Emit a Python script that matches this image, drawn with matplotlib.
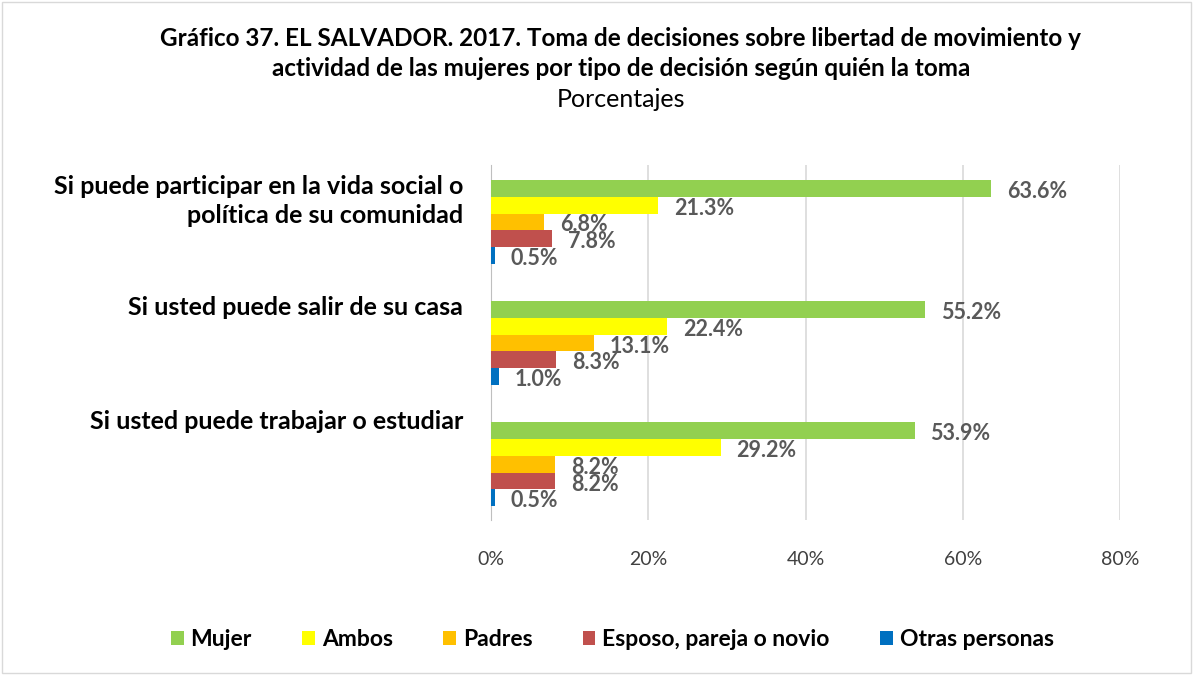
import numpy as np
import matplotlib
matplotlib.use("Agg")
from matplotlib import pyplot as plt
from matplotlib.patches import Rectangle

# data
categories = ["Si puede participar en la vida social o\npolítica de su comunidad",
              "Si usted puede salir de su casa",
              "Si usted puede trabajar o estudiar"]
series = ["Mujer", "Ambos", "Padres", "Esposo, pareja o novio", "Otras personas"]
mujer = [63.6, 55.2, 53.9]
ambos = [21.3, 22.4, 29.2]
padres = [6.8, 13.1, 8.2]
esposo = [7.8, 8.3, 8.2]
otras = [0.5, 1.0, 0.5]
colors = ["#92D050", "#FFFF00", "#FFC000", "#C0504D", "#0070C0"]
xticks = [0, 20, 40, 60, 80]

plt.rcParams["font.family"] = ["Lato", "DejaVu Sans"]

fig = plt.figure(figsize=(11.96, 6.75), dpi=100)
ax = fig.add_axes([0.4105, 0.2296, 0.526, 0.526])

h = 0.138
y = np.arange(len(categories))
values = [mujer, ambos, padres, esposo, otras]
for i, (name, vals, c) in enumerate(zip(series, values, colors)):
    pos = y + (i - 2) * h
    ax.barh(pos, vals, height=h, color=c, label=name, zorder=3)
    for p, v in zip(pos, vals):
        ax.text(v + 2.0, p + 0.025, f"{v:.1f}%", va="center", ha="left",
                fontsize=15.5, fontweight="bold", color="#595959", zorder=4)

ax.set_xlim(0, 80)
ax.set_ylim(2.46, -0.47)
ax.set_xticks(xticks)
ax.set_xticklabels([f"{t}%" for t in xticks], fontsize=14, color="#404040")
ax.tick_params(axis="x", length=0, pad=22)
# category labels sit near the top of each group
ax.set_yticks(y + np.array([-0.21, -0.31, -0.37]))
ax.set_yticklabels(categories, fontsize=18, fontweight="bold", color="#000000",
                   linespacing=1.3)
ax.tick_params(axis="y", length=0, pad=20)
ax.grid(axis="x", color="#D9D9D9", linewidth=1.2, zorder=0)
for s in ["top", "right", "bottom"]:
    ax.spines[s].set_visible(False)
ax.spines["left"].set_color("#BFBFBF")

fig.text(0.519, 0.9437, "Gráfico 37. EL SALVADOR. 2017. Toma de decisiones sobre libertad de movimiento y",
         ha="center", va="center", fontsize=17.5, fontweight="bold")
fig.text(0.519, 0.899, "actividad de las mujeres por tipo de decisión según quién la toma",
         ha="center", va="center", fontsize=17.5, fontweight="bold")
fig.text(0.519, 0.852, "Porcentajes", ha="center", va="center", fontsize=18)

leg = fig.legend(loc="center", bbox_to_anchor=(0.512, 0.052), ncol=5, frameon=False,
                 handlelength=0.55, handleheight=0.55, columnspacing=2.2, handletextpad=0.3,
                 prop={"size": 16.5, "weight": "bold"})

fig.patches.append(Rectangle((0.002, 0.003), 0.994, 0.994, transform=fig.transFigure,
                             fill=False, edgecolor="#D9D9D9", linewidth=1))

fig.savefig("out.png", dpi=100)
